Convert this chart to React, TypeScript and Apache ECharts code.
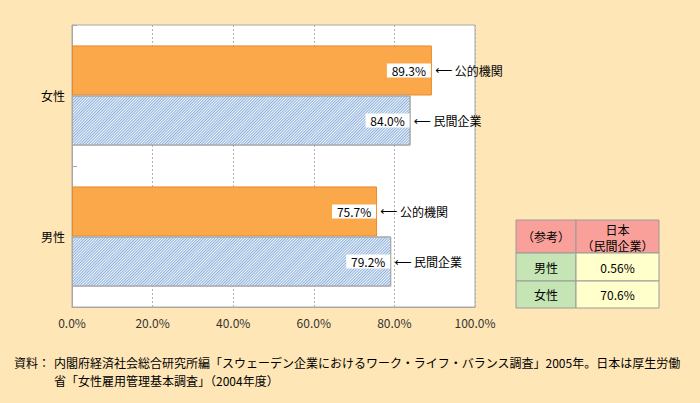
import React, { useEffect, useRef } from "react";
import * as echarts from "echarts";

const categories = ["女性", "男性"];
const publicValues = [89.3, 75.7];
const privateValues = [84.0, 79.2];
const seriesNames = ["公的機関", "民間企業"];
const xTicks = [0, 20, 40, 60, 80, 100];

const tableHeader = ["（参考）", "日本", "（民間企業）"];
const tableRowLabels = ["男性", "女性"];
const tableRowValues = ["0.56%", "70.6%"];

const sourceLabel = "資料：";
const sourceLine1 =
  "内閣府経済社会総合研究所編「スウェーデン企業におけるワーク・ライフ・バランス調査」2005年。日本は厚生労働";
const sourceLine2 = "省「女性雇用管理基本調査」（2004年度）";

const FONT = '"Noto Sans CJK JP", "Noto Sans", sans-serif';
const ARROW_FONT = '"DejaVu Sans", "Noto Sans CJK JP", sans-serif';

function makeLabel(name: string) {
  return {
    show: true,
    position: "right",
    distance: 0,
    offset: [-45, 0],
    fontFamily: FONT,
    fontSize: 12,
    color: "#000",
    formatter: (p: any) => `{v|${p.value.toFixed(1)}%}{s|}{r|⟵}{a| ${name}}`,
    rich: {
      v: {
        backgroundColor: "#fff",
        width: 40,
        align: "center",
        padding: [1, 2, 1, 2],
        fontFamily: FONT,
        fontSize: 12,
        color: "#000",
      },
      s: { width: 4 },
      r: { fontFamily: ARROW_FONT, fontSize: 12, color: "#000" },
      a: { fontFamily: FONT, fontSize: 12, color: "#000" },
    },
  };
}

export default function App() {
  const ref = useRef<HTMLDivElement>(null);
  useEffect(() => {
    if (!ref.current) return;
    const chart = echarts.init(ref.current, undefined, { renderer: "svg" });

    const tx = 516, c1 = 576, tr = 659;
    const ty = 220, h1 = 253, h2 = 281, tb = 308;
    const stroke = "#9a9a9a";
    const graphics: any[] = [
      { type: "rect", shape: { x: tx, y: ty, width: c1 - tx, height: h1 - ty }, style: { fill: "#F9A09A", stroke } },
      { type: "rect", shape: { x: c1, y: ty, width: tr - c1, height: h1 - ty }, style: { fill: "#F9A09A", stroke } },
      { type: "rect", shape: { x: tx, y: h1, width: c1 - tx, height: h2 - h1 }, style: { fill: "#C5E5B4", stroke } },
      { type: "rect", shape: { x: c1, y: h1, width: tr - c1, height: h2 - h1 }, style: { fill: "#FFFFCC", stroke } },
      { type: "rect", shape: { x: tx, y: h2, width: c1 - tx, height: tb - h2 }, style: { fill: "#C5E5B4", stroke } },
      { type: "rect", shape: { x: c1, y: h2, width: tr - c1, height: tb - h2 }, style: { fill: "#FFFFCC", stroke } },
      { type: "text", x: (tx + c1) / 2, y: (ty + h1) / 2, style: { text: tableHeader[0], font: `12px ${FONT}`, fill: "#000", align: "center", verticalAlign: "middle" } },
      { type: "text", x: (c1 + tr) / 2, y: 229, style: { text: tableHeader[1], font: `12px ${FONT}`, fill: "#000", align: "center", verticalAlign: "middle" } },
      { type: "text", x: (c1 + tr) / 2, y: 245.5, style: { text: tableHeader[2], font: `12px ${FONT}`, fill: "#000", align: "center", verticalAlign: "middle" } },
    ];
    const rowMids = [(h1 + h2) / 2, (h2 + tb) / 2];
    tableRowLabels.forEach((lab, i) => {
      graphics.push({ type: "text", x: (tx + c1) / 2, y: rowMids[i], style: { text: lab, font: `12px ${FONT}`, fill: "#000", align: "center", verticalAlign: "middle" } });
      graphics.push({ type: "text", x: (c1 + tr) / 2, y: rowMids[i], style: { text: tableRowValues[i], font: `12px ${FONT}`, fill: "#000", align: "center", verticalAlign: "middle" } });
    });
    graphics.push({ type: "text", x: 14, y: 362, style: { text: sourceLabel, font: `12px ${FONT}`, fill: "#000", verticalAlign: "middle" } });
    graphics.push({ type: "text", x: 54, y: 362, style: { text: sourceLine1, font: `12px ${FONT}`, fill: "#000", verticalAlign: "middle" } });
    graphics.push({ type: "text", x: 54, y: 380, style: { text: sourceLine2, font: `12px ${FONT}`, fill: "#000", verticalAlign: "middle" } });

    chart.setOption({
      animation: false,
      backgroundColor: "#FFE6B6",
      textStyle: { fontFamily: FONT },
      grid: {
        left: 72,
        right: 225,
        top: 25,
        bottom: 96,
        show: true,
        backgroundColor: "#fff",
        borderColor: "#a8a8a8",
        borderWidth: 1,
      },
      xAxis: {
        type: "value",
        min: xTicks[0],
        max: xTicks[xTicks.length - 1],
        interval: 20,
        axisLine: { show: true, lineStyle: { color: "#a8a8a8" } },
        axisTick: { show: false },
        axisLabel: {
          formatter: (v: number) => `${v.toFixed(1)}%`,
          color: "#333",
          fontSize: 12,
          fontFamily: FONT,
          margin: 9,
        },
        splitLine: { show: true, lineStyle: { color: "#b0b0b0", type: [2, 2] } },
      },
      yAxis: {
        type: "category",
        data: categories,
        inverse: true,
        axisLine: { show: true, lineStyle: { color: "#a8a8a8" } },
        axisTick: { show: true, inside: true, length: 5, lineStyle: { color: "#a8a8a8" } },
        axisLabel: { color: "#000", fontSize: 12, fontFamily: FONT, margin: 7 },
        splitLine: { show: false },
      },
      series: [
        {
          name: seriesNames[0],
          type: "bar",
          data: publicValues,
          barGap: "0%",
          barCategoryGap: "29%",
          itemStyle: { color: "#FBA84B", borderColor: "#E88A2C", borderWidth: 1 },
          label: makeLabel(seriesNames[0]),
        },
        {
          name: seriesNames[1],
          type: "bar",
          data: privateValues,
          barGap: "0%",
          barCategoryGap: "29%",
          itemStyle: {
            color: "#eef4fb",
            borderColor: "#a8a8a8",
            borderWidth: 1,
            decal: {
              symbol: "rect",
              symbolSize: 1,
              dashArrayX: [1, 0],
              dashArrayY: [1, 1],
              rotation: -Math.PI / 4,
              color: "#8fb2dc",
            },
          },
          label: makeLabel(seriesNames[1]),
        },
      ],
      graphic: graphics,
    });
    return () => chart.dispose();
  }, []);
  return (
    <div
      ref={ref}
      style={{ position: "fixed", left: 0, top: 0, width: 700, height: 403 }}
    />
  );
}
